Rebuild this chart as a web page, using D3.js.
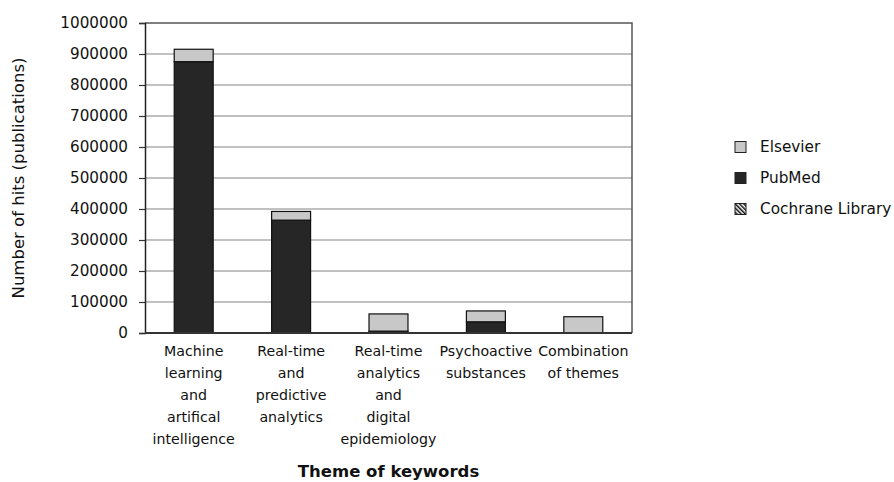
<!DOCTYPE html>
<html>
<head>
<meta charset="utf-8">
<script src="https://cdn.jsdelivr.net/npm/d3@7"></script>
<style>
  html, body { margin: 0; padding: 0; background: #ffffff; }
  svg text { font-family: "DejaVu Sans", "Noto Sans", sans-serif; fill: #111; }
</style>
</head>
<body>
<svg id="chart" width="894" height="482"></svg>
<script>
// Themes searched (x categories), each label split into its displayed lines
const categories = [
  ["Machine", "learning", "and", "artifical", "intelligence"],
  ["Real-time", "and", "predictive", "analytics"],
  ["Real-time", "analytics", "and", "digital", "epidemiology"],
  ["Psychoactive", "substances"],
  ["Combination", "of themes"]
];

// Hits per database, one value per theme
const cochraneHits = [300, 100, 50, 150, 20];
const pubmedHits   = [875000, 364000, 6000, 36000, 500];
const elsevierHits = [40000, 28000, 55500, 35000, 52000];

const yTicks = [0, 100000, 200000, 300000, 400000, 500000, 600000, 700000, 800000, 900000, 1000000];

// Series drawn bottom to top; legend lists them top to bottom
const seriesNames = ["Cochrane Library", "PubMed", "Elsevier"];
const legendOrder = ["Elsevier", "PubMed", "Cochrane Library"];

const svg = d3.select("#chart");
const margin = { left: 145, right: 262, top: 23, bottom: 149 };
const W = 894, H = 482;
const plotW = W - margin.left - margin.right;
const plotH = H - margin.top - margin.bottom;

const defs = svg.append("defs");
const hatch = defs.append("pattern")
  .attr("id", "hatch")
  .attr("patternUnits", "userSpaceOnUse")
  .attr("width", 3).attr("height", 3)
  .attr("patternTransform", "rotate(-45)");
hatch.append("rect").attr("width", 3).attr("height", 3).attr("fill", "#fff");
hatch.append("rect").attr("width", 1.5).attr("height", 3).attr("fill", "#111");

const fills = { "Elsevier": "#c8c8c8", "PubMed": "#262626", "Cochrane Library": "url(#hatch)" };

const rows = categories.map((c, i) => ({
  key: i,
  "Cochrane Library": cochraneHits[i],
  "PubMed": pubmedHits[i],
  "Elsevier": elsevierHits[i]
}));
const stacked = d3.stack().keys(seriesNames)(rows);

const x = d3.scaleBand()
  .domain(categories.map((c, i) => i))
  .range([margin.left, margin.left + plotW])
  .paddingInner(0.6)
  .paddingOuter(0.3);

const y = d3.scaleLinear()
  .domain([0, 1000000])
  .range([margin.top + plotH, margin.top]);

// horizontal gridlines
svg.append("g")
  .selectAll("line")
  .data(yTicks.filter(t => t > 0 && t < 1000000))
  .join("line")
  .attr("x1", margin.left).attr("x2", margin.left + plotW)
  .attr("y1", d => y(d)).attr("y2", d => y(d))
  .attr("stroke", "#acacac")
  .attr("stroke-width", 1.5);

// plot frame (top and right)
svg.append("path")
  .attr("d", `M${margin.left},${margin.top}H${margin.left + plotW}V${margin.top + plotH}`)
  .attr("fill", "none")
  .attr("stroke", "#555")
  .attr("stroke-width", 1.5);

// stacked bars
svg.append("g")
  .selectAll("g")
  .data(stacked)
  .join("g")
  .attr("fill", d => fills[d.key])
  .selectAll("rect")
  .data(d => d)
  .join("rect")
  .attr("x", d => x(d.data.key))
  .attr("width", x.bandwidth())
  .attr("y", d => y(d[1]))
  .attr("height", d => y(d[0]) - y(d[1]))
  .attr("stroke", "#111")
  .attr("stroke-width", 1.2);

// y axis
const yAxis = svg.append("g")
  .attr("transform", `translate(${margin.left},0)`)
  .call(d3.axisLeft(y).tickValues(yTicks).tickFormat(d3.format("d")).tickSizeOuter(0).tickSize(6).tickPadding(11));
yAxis.select(".domain").attr("stroke", "#222").attr("stroke-width", 1.5);
yAxis.selectAll(".tick line").attr("stroke", "#333").attr("stroke-width", 1.2);
yAxis.selectAll(".tick text").attr("font-size", 15.2).style("fill", "#111");

// x baseline
svg.append("line")
  .attr("x1", margin.left).attr("x2", margin.left + plotW)
  .attr("y1", y(0)).attr("y2", y(0))
  .attr("stroke", "#333").attr("stroke-width", 2);

// category labels
const xl = svg.append("g");
categories.forEach((lines, i) => {
  const cx = x(i) + x.bandwidth() / 2;
  const t = xl.append("text")
    .attr("text-anchor", "middle")
    .attr("font-size", 14.2)
    .attr("x", cx)
    .attr("y", y(0) + 23);
  lines.forEach((ln, k) => {
    t.append("tspan")
      .attr("x", cx)
      .attr("dy", k === 0 ? 0 : 22)
      .text(ln);
  });
});

// axis titles
svg.append("text")
  .attr("x", margin.left + plotW / 2)
  .attr("y", 477)
  .attr("text-anchor", "middle")
  .attr("font-size", 16.5)
  .attr("font-weight", "bold")
  .text("Theme of keywords");

svg.append("text")
  .attr("transform", `translate(24,${margin.top + plotH / 2}) rotate(-90)`)
  .attr("text-anchor", "middle")
  .attr("font-size", 16.5)
  .text("Number of hits (publications)");

// legend
const legend = svg.append("g");
legendOrder.forEach((name, i) => {
  const cy = 147 + i * 31;
  legend.append("rect")
    .attr("x", 735).attr("y", cy - 5.5)
    .attr("width", 11).attr("height", 11)
    .attr("fill", fills[name])
    .attr("stroke", "#222").attr("stroke-width", 1);
  legend.append("text")
    .attr("x", 760).attr("y", cy)
    .attr("dy", "0.35em")
    .attr("font-size", 15.3)
    .text(name);
});
</script>
</body>
</html>
